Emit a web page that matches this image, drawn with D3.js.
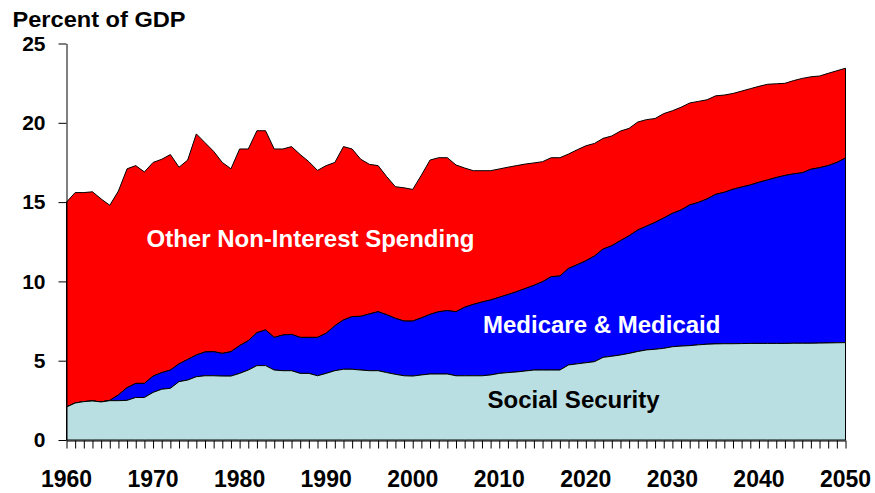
<!DOCTYPE html>
<html>
<head>
<meta charset="utf-8">
<script src="https://cdn.jsdelivr.net/npm/d3@7"></script>
<style>
  html, body { margin: 0; padding: 0; background: #fff; }
  svg { display: block; font-family: "Liberation Sans", Arial, Helvetica, sans-serif; font-weight: bold; }
</style>
</head>
<body>
<div id="chart"></div>
<script>
// ---- Data (percent of GDP) ----
const years = d3.range(1960, 2051);

const socialSecurity = [
  2.08, 2.33, 2.42, 2.46, 2.40, 2.48, 2.48, 2.50, 2.68, 2.68,
  3.00, 3.20, 3.26, 3.68, 3.78, 3.99, 4.05, 4.05, 4.03, 4.03,
  4.20, 4.41, 4.69, 4.69, 4.41, 4.37, 4.37, 4.20, 4.20, 4.05,
  4.20, 4.37, 4.46, 4.46, 4.41, 4.37, 4.37, 4.25, 4.14, 4.05,
  4.03, 4.10, 4.16, 4.16, 4.16, 4.05, 4.05, 4.05, 4.05, 4.10,
  4.20, 4.25, 4.29, 4.35, 4.41, 4.41, 4.41, 4.41, 4.73, 4.80,
  4.87, 4.94, 5.21, 5.28, 5.36, 5.46, 5.58, 5.68, 5.72, 5.78,
  5.88, 5.92, 5.95, 6.00, 6.04, 6.06, 6.07, 6.07, 6.08, 6.09,
  6.09, 6.09, 6.09, 6.09, 6.10, 6.10, 6.10, 6.11, 6.12, 6.13,
  6.14
];

const medicareMedicaid = [
  0.00, 0.00, 0.00, 0.00, 0.00, 0.02, 0.36, 0.80, 0.89, 0.89,
  1.03, 1.05, 1.15, 1.12, 1.30, 1.37, 1.50, 1.52, 1.43, 1.54,
  1.75, 1.85, 2.08, 2.25, 2.06, 2.25, 2.29, 2.27, 2.27, 2.42,
  2.53, 2.83, 3.11, 3.32, 3.39, 3.58, 3.72, 3.65, 3.53, 3.45,
  3.47, 3.60, 3.76, 3.93, 4.00, 4.04, 4.32, 4.50, 4.65, 4.73,
  4.80, 4.92, 5.06, 5.20, 5.34, 5.57, 5.89, 5.93, 6.09, 6.25,
  6.43, 6.66, 6.83, 6.97, 7.21, 7.42, 7.66, 7.80, 8.00, 8.22,
  8.41, 8.58, 8.87, 8.98, 9.16, 9.43, 9.55, 9.74, 9.87, 9.99,
  10.16, 10.31, 10.46, 10.59, 10.68, 10.75, 10.97, 11.06, 11.18, 11.37,
  11.64
];

const otherSpending = [
  12.92, 13.27, 13.18, 13.19, 12.80, 12.30, 12.86, 13.80, 13.73, 13.33,
  13.47, 13.45, 13.59, 12.40, 12.57, 13.94, 13.20, 12.63, 12.04, 11.53,
  12.40, 12.09, 12.73, 12.56, 11.88, 11.73, 11.84, 11.53, 11.08, 10.53,
  10.57, 10.30, 10.93, 10.57, 9.90, 9.43, 9.21, 8.70, 8.30, 8.40,
  8.30, 9.00, 9.73, 9.71, 9.64, 9.25, 8.78, 8.43, 8.28, 8.15,
  8.09, 8.03, 7.95, 7.85, 7.72, 7.57, 7.50, 7.46, 7.21, 7.25,
  7.25, 7.10, 6.98, 6.92, 6.91, 6.77, 6.81, 6.72, 6.55, 6.58,
  6.47, 6.48, 6.43, 6.37, 6.25, 6.21, 6.13, 6.04, 6.05, 6.07,
  6.05, 6.03, 5.91, 5.81, 5.88, 5.95, 5.83, 5.78, 5.82, 5.78,
  5.66
];

const seriesKeys = ["socialSecurity", "medicareMedicaid", "otherSpending"];
const seriesColors = ["#BADFE3", "#0000FF", "#FF0000"];
const seriesLabels = ["Social Security", "Medicare & Medicaid", "Other Non-Interest Spending"];
const yTickValues = [0, 5, 10, 15, 20, 25];
const xTickLabels = [1960, 1970, 1980, 1990, 2000, 2010, 2020, 2030, 2040, 2050];
const titleText = "Percent of GDP";

// ---- Build table ----
const table = years.map((yr, i) => ({
  year: yr,
  socialSecurity: socialSecurity[i],
  medicareMedicaid: medicareMedicaid[i],
  otherSpending: otherSpending[i]
}));

const W = 875, H = 493;
const svg = d3.select("#chart").append("svg").attr("width", W).attr("height", H);

const x = d3.scaleLinear().domain([1960, 2050]).range([66.5, 845.5]);
const y = d3.scaleLinear().domain([0, 25]).range([440, 43.5]);

const stacked = d3.stack().keys(seriesKeys)(table);

const area = d3.area()
  .x(d => x(d.data.year))
  .y0(d => y(d[0]))
  .y1(d => y(d[1]));

// draw top series first so lower ones overlay the outlines cleanly
svg.append("g").selectAll("path")
  .data(stacked.slice().reverse())
  .join("path")
  .attr("d", area)
  .attr("fill", (d) => seriesColors[seriesKeys.indexOf(d.key)])
  .attr("stroke", "#000")
  .attr("stroke-width", 1)
  .attr("stroke-linejoin", "round");

// ---- Axes ----
const yAxis = d3.axisLeft(y).tickValues(yTickValues).tickSize(8).tickSizeOuter(0).tickPadding(12);
const gy = svg.append("g").attr("transform", "translate(66.5,0)").call(yAxis);
gy.select(".domain").attr("stroke", "#000").attr("stroke-width", 1);
gy.selectAll(".tick line").attr("stroke", "#000");
gy.selectAll(".tick text")
  .attr("font-size", 21)
  .attr("font-weight", "bold")
  .attr("font-family", '"Liberation Sans", Arial, sans-serif')
  .attr("fill", "#000")
  .attr("x", -21);

const xAxis = d3.axisBottom(x).tickValues(years).tickSize(8).tickSizeOuter(0).tickFormat("");
const gx = svg.append("g").attr("transform", "translate(0,440.5)").call(xAxis);
gx.select(".domain").attr("stroke", "#000").attr("stroke-width", 1);
gx.selectAll(".tick line").attr("stroke", "#000").attr("stroke-width", 1);

svg.append("g").selectAll("text")
  .data(xTickLabels)
  .join("text")
  .attr("x", d => x(d))
  .attr("y", 486.5)
  .attr("text-anchor", "middle")
  .attr("font-size", 23)
  .attr("fill", "#000")
  .text(d => d);

// ---- Title ----
svg.append("text")
  .attr("x", 12.5)
  .attr("y", 26.5)
  .attr("font-size", 22)
  .attr("textLength", 173)
  .attr("lengthAdjust", "spacingAndGlyphs")
  .attr("fill", "#000")
  .text(titleText);

// ---- Series labels ----
const labelPos = [
  { x: 487.5, y: 408, fill: "#000" },
  { x: 483, y: 333, fill: "#fff" },
  { x: 146.5, y: 247, fill: "#fff" }
];
svg.append("g").selectAll("text")
  .data(seriesLabels)
  .join("text")
  .attr("x", (d, i) => labelPos[i].x)
  .attr("y", (d, i) => labelPos[i].y)
  .attr("font-size", 24)
  .attr("fill", (d, i) => labelPos[i].fill)
  .text(d => d);
</script>
</body>
</html>
